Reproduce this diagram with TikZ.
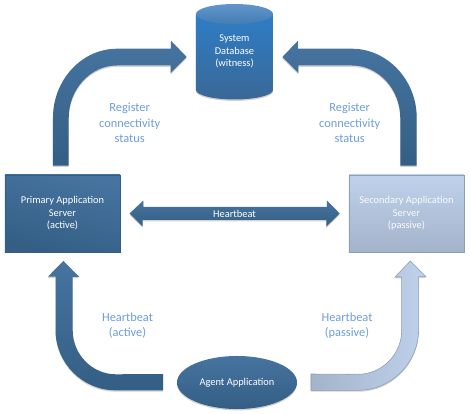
\documentclass[tikz,border=0pt]{standalone}
\usepackage{fontspec}
\setmainfont{Carlito}
\usetikzlibrary{shapes.geometric, shadows}
\definecolor{serverTop}{RGB}{70,116,160}
\definecolor{serverBottom}{RGB}{52,94,132}
\definecolor{passiveTop}{RGB}{191,210,235}
\definecolor{passiveBottom}{RGB}{163,179,202}
\definecolor{passiveEdge}{RGB}{140,157,181}
\definecolor{dbTop}{RGB}{46,125,198}
\definecolor{dbBottom}{RGB}{58,104,150}
\definecolor{dbCapTop}{RGB}{96,150,203}
\definecolor{dbCapBottom}{RGB}{68,125,178}
\definecolor{labelBlue}{RGB}{108,156,222}
\tikzset{
	softShadow/.style={drop shadow={shadow xshift=0pt, shadow yshift=-0.035cm, opacity=0.18, fill=black}},
	smallText/.style={align=center, inner sep=0pt, text=white, font=\fontsize{7.4}{8.9}\selectfont},
	activeBox/.style={rectangle, smallText, minimum width=2.875cm, minimum height=1.925cm, draw=serverBottom, line width=0.4pt, top color=serverTop, bottom color=serverBottom, shading angle=-15, softShadow},
	passiveBox/.style={activeBox, draw=passiveEdge, top color=passiveTop, bottom color=passiveBottom, text=white!92!passiveTop},
	darkArrow/.style={top color=serverTop, bottom color=serverBottom, softShadow},
	lightArrow/.style={left color=passiveBottom, right color=passiveTop, draw=passiveEdge, line width=0.4pt, softShadow},
	noteLabel/.style={align=center, inner sep=0pt, text=labelBlue, font=\fontsize{8.8}{10.9}\selectfont},
}

\begin{document}
\begin{tikzpicture}[x=0.025cm, y=-0.025cm]
	\useasboundingbox (0,0) rectangle (470,414);
	% servers, database, agent
	\node[activeBox] (primary) at (62.5,213.5) {Primary Application\\Server\\(active)};
	\node[passiveBox] (secondary) at (406.5,213.5) {Secondary Application\\Server\\(passive)};
	\shade[top color=dbTop, bottom color=dbBottom, softShadow] (196,14) -- (196,90) .. controls +(0,5.2) and +(-21,0) .. (234.5,99.5) .. controls +(21,0) and +(0,5.2) .. (273,90) -- (273,14) -- cycle;
	\shade[top color=dbCapTop, bottom color=dbCapBottom] (234.5,14) ellipse (38.5 and 10);
	\node[smallText, minimum width=1.925cm, minimum height=2.4cm] (database) at (234.5,51.5) {System\\Database\\(witness)};
	\node[ellipse, smallText, minimum width=3cm, minimum height=1.325cm, top color=serverTop, bottom color=serverBottom, softShadow] (agent) at (237,382.5) {Agent Application};
	% register connectivity
	\path[darkArrow] ([shift={(-9.5,-9)}]primary.north) -- ++(0,-48) .. controls +(0,-38) and +(-35,0) .. ++(64,-69) -- ++(54,0) -- ++(0,-8) -- ([shift={(-9,5.5)}]database.west) -- ++(-16,16) -- ++(0,-7.5) -- ++(-54,0) .. controls +(-26.4,0) and +(0,-28.6) .. ++(-48,52.5) -- ++(0,47.5) -- cycle;
	\path[darkArrow] ([shift={(10.2,-9)}]secondary.north) -- ++(0,-48) .. controls +(0,-38) and +(35,0) .. ++(-64.7,-69) -- ++(-54,0) -- ++(0,-8) -- ([shift={(9,5.5)}]database.east) -- ++(16,16) -- ++(0,-7.5) -- ++(54,0) .. controls +(26.4,0) and +(0,-28.6) .. ++(48,52.5) -- ++(0,47.5) -- cycle;
	% heartbeat between servers
	\path[darkArrow] ([xshift=0.2325cm]primary.east) -- ++(13.7,-13) -- ++(0,6.5) -- ++(183.7,0) -- ++(0,-6.5) -- ([xshift=-0.225cm]secondary.west) -- ++(-13.3,13) -- ++(0,-6.5) -- ++(-183.7,0) -- ++(0,6.5) -- cycle;
	% agent to servers
	\path[darkArrow] ([shift={(-13.5,-8.5)}]agent.west) -- ++(0,16.3) -- ++(-47.7,0) .. controls +(-33,0) and +(0,33) .. ++(-60,-60.3) -- ++(0,-53.3) -- ++(-7.7,0) -- ([shift={(1,8.7)}]primary.south) -- ++(15.8,16) -- ++(-6.6,0) -- ++(0,53.3) .. controls +(0,24) and +(-24,0) .. ++(43.3,44) -- cycle;
	\path[lightArrow] ([shift={(13.7,-8.5)}]agent.east) -- ++(0,16.3) -- ++(47.3,0) .. controls +(33,0) and +(0,33) .. ++(60.3,-60.3) -- ++(0,-53.3) -- ++(7.4,0) -- ([shift={(3.8,8.7)}]secondary.south) -- ++(-15.3,16) -- ++(6.7,0) -- ++(0,53.3) .. controls +(0,24) and +(24,0) .. ++(-43.7,44) -- cycle;
	% labels
	\node[smallText] (heartbeatLabel) at (234.5,213.5) {Heartbeat};
	\node[noteLabel] (registerLeft) at (129.7,123) {Register\\connectivity\\status};
	\node[noteLabel] (registerRight) at (349.7,123) {Register\\connectivity\\status};
	\node[noteLabel] (activeNote) at (127.5,325.5) {Heartbeat\\(active)};
	\node[noteLabel] (passiveNote) at (347,325.5) {Heartbeat\\(passive)};
\end{tikzpicture}
\end{document}
